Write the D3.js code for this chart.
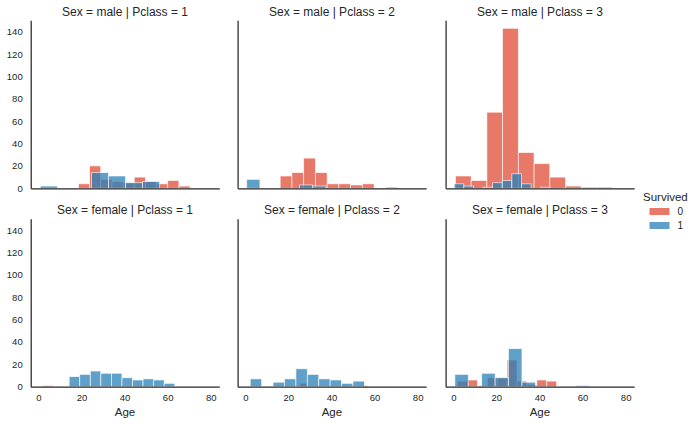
<!DOCTYPE html>
<html>
<head>
<meta charset="utf-8">
<script src="https://cdn.jsdelivr.net/npm/d3@7"></script>
<style>
  body { margin: 0; background: #fff; }
  text { font-family: "Liberation Sans", Arial, sans-serif; fill: #262626; }
</style>
</head>
<body>
<div id="chart"></div>
<script>
// facet layout: rows = sex, cols = pclass
var sexes = ["male", "female"];
var pclasses = [1, 2, 3];

// histogram bins per facet (order: male 1,2,3 then female 1,2,3)
// Survived = 0
var diedStart = [18.6, 16.2, 1, 2, 25.5, 2];
var diedWidth = [5.18, 5.45, 7.3, 4.8, 3.15, 4.6];
var diedCounts = [
  [4, 20, 8, 6, 5, 10, 6, 4, 7, 2],
  [11, 14, 27, 14, 4, 4, 3, 4, 0, 1],
  [11, 7, 68, 143, 32, 22, 10, 2, 1, 1],
  [1, 0, 0, 0, 1, 0, 0, 0, 0, 1],
  [3, 0, 0, 0, 1, 0, 1, 0, 0, 1],
  [5, 6, 1, 8, 8, 24, 5, 2, 6, 5]
];

// Survived = 1
var survStart = [0.92, 0.67, 0.42, 14.3, 2.3, 0.75];
var survWidth = [7.91, 6.13, 4.46, 4.9, 5.3, 6.225];
var survCounts = [
  [2, 0, 0, 14, 11, 5, 6, 0, 0, 0],
  [8, 0, 0, 0, 3, 2, 0, 0, 0, 0],
  [4, 2, 0, 1, 5, 7, 13, 4, 0, 1],
  [9, 11, 14, 12, 12, 8, 6, 7, 6, 3],
  [7, 0, 4, 7, 16, 11, 7, 6, 3, 5],
  [11, 0, 12, 8, 34, 4, 0, 0, 0, 1]
];

var yTicks = [0, 20, 40, 60, 80, 100, 120, 140];
var xTicks = [0, 20, 40, 60, 80];
var hueLevels = ["0", "1"];
var colors = ["#e04b35", "#2980b9"];

// sizes

var svgWidth = 698;
var svgHeight = 424;
var panelLeft = [30.7, 237.6, 445.6];
var panelTop = [20.3, 218.7];
var panelW = 188.6;
var panelH = 168;

var svg = d3.select("#chart")
  .append("svg")
  .attr("width", svgWidth)
  .attr("height", svgHeight);

// shared scales

var x = d3.scaleLinear()
  .domain([-3.56, 83.98])
  .range([0, panelW]);

var y = d3.scaleLinear()
  .domain([0, 150.15])
  .range([panelH, 0]);

// draw one layer of bars

function drawBars(g, start, width, counts, color) {
  var bins = counts.map((c, i) => ({ x0: start + i * width, x1: start + (i + 1) * width, n: c }))
    .filter(d => d.n > 0);

  g.selectAll(null)
    .data(bins)
    .enter()
    .append("rect")
    .attr("x", d => x(d.x0))
    .attr("y", d => y(d.n))
    .attr("width", d => x(d.x1) - x(d.x0))
    .attr("height", d => y(0) - y(d.n))
    .attr("fill", color)
    .attr("fill-opacity", 0.75)
    .attr("stroke", "#fff")
    .attr("stroke-opacity", 0.75)
    .attr("stroke-width", 0.8);
}

sexes.forEach((sex, r) => {
  pclasses.forEach((pc, c) => {
    var k = r * 3 + c;
    var g = svg.append("g")
      .attr("transform", `translate(${panelLeft[c]}, ${panelTop[r]})`);

    drawBars(g, diedStart[k], diedWidth[k], diedCounts[k], colors[0]);
    drawBars(g, survStart[k], survWidth[k], survCounts[k], colors[1]);

    // left spine + y labels
    var left = d3.axisLeft(y)
      .tickValues(yTicks)
      .tickSize(0)
      .tickSizeOuter(0)
      .tickPadding(8);
    if (c > 0) left.tickFormat("");

    var ya = g.append("g").call(left);
    ya.select(".domain").attr("stroke", "#262626").attr("stroke-width", 1.25);
    ya.selectAll("text").attr("font-size", "9.5px").attr("fill", "#262626")
      .style("font-family", "'Liberation Sans', Arial, sans-serif");

    // bottom spine + x labels
    var bottom = d3.axisBottom(x)
      .tickValues(xTicks)
      .tickSize(0)
      .tickSizeOuter(0)
      .tickPadding(8);
    if (r == 0) bottom.tickFormat("");

    var xa = g.append("g")
      .attr("transform", `translate(0, ${panelH})`)
      .call(bottom);
    xa.select(".domain").attr("stroke", "#262626").attr("stroke-width", 1.25);
    xa.selectAll("text").attr("font-size", "9.5px").attr("fill", "#262626")
      .style("font-family", "'Liberation Sans', Arial, sans-serif");

    // facet title
    g.append("text")
      .attr("x", panelW / 2)
      .attr("y", -4.5)
      .attr("text-anchor", "middle")
      .attr("font-size", "12px")
      .text(`Sex = ${sex} | Pclass = ${pc}`);

    if (r == 1) {
      g.append("text")
        .attr("x", panelW / 2)
        .attr("y", panelH + 29)
        .attr("text-anchor", "middle")
        .attr("font-size", "11.5px")
        .text("Age");
    }
  });
});

// legend

var legend = svg.append("g")
  .attr("transform", "translate(643, 201)");

legend.append("text")
  .attr("x", 0)
  .attr("y", 0)
  .attr("font-size", "11.5px")
  .text("Survived");

hueLevels.forEach((lv, i) => {
  legend.append("rect")
    .attr("x", 6.5)
    .attr("y", 7 + i * 14)
    .attr("width", 20)
    .attr("height", 7)
    .attr("fill", colors[i])
    .attr("fill-opacity", 0.75);

  legend.append("text")
    .attr("x", 34.5)
    .attr("y", 14.3 + i * 14)
    .attr("font-size", "10px")
    .text(lv);
});
</script>
</body>
</html>
